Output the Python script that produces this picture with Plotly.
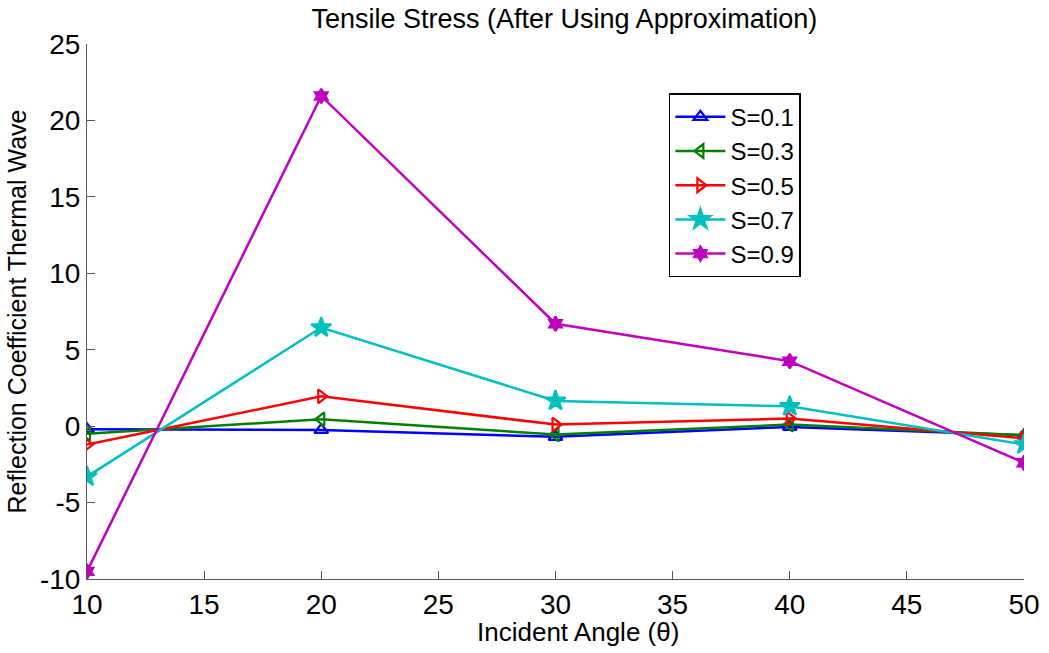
import plotly.graph_objects as go

# Incident angles (degrees)
angles = [10, 20, 30, 40, 50]

# Reflection coefficient of the thermal wave for each S value
s01 = [-0.2, -0.25, -0.7, -0.05, -0.6]
s03 = [-0.5, 0.45, -0.55, 0.1, -0.6]
s05 = [-1.2, 1.95, 0.1, 0.5, -0.8]
s07 = [-3.3, 6.45, 1.65, 1.3, -1.2]
s09 = [-9.5, 21.6, 6.7, 4.25, -2.4]

series_names = ["S=0.1", "S=0.3", "S=0.5", "S=0.7", "S=0.9"]
series_values = [s01, s03, s05, s07, s09]
colors = ["#0000ff", "#008000", "#ff0000", "#00bfbf", "#bf00bf"]
symbols = ["triangle-up-open", "triangle-left-open", "triangle-right-open", "star", "hexagram"]
sizes = [12, 12, 12, 15, 11]

x_ticks = [10, 15, 20, 25, 30, 35, 40, 45, 50]
y_ticks = [-10, -5, 0, 5, 10, 15, 20, 25]
y_tick_labels = ["-10", "-5", "0", "5", "10", "15", "20", "25"]

fig = go.Figure()
for name, vals, col, sym, sz in zip(series_names, series_values, colors, symbols, sizes):
    fig.add_trace(go.Scatter(
        x=angles, y=vals, name=name, mode="lines+markers",
        line=dict(color=col, width=2.5),
        marker=dict(symbol=sym, size=sz, color=col,
                    line=dict(color=col, width=2.2)),
    ))

font_family = "Liberation Sans"

fig.update_layout(
    width=1049, height=653,
    margin=dict(l=87, r=25, t=44, b=74),
    paper_bgcolor="white", plot_bgcolor="white",
    font=dict(family=font_family, color="black"),
    title=dict(text="Tensile Stress (After Using Approximation)",
               x=0.538, xanchor="center", y=0.972, yanchor="middle",
               font=dict(size=27, family=font_family)),
    xaxis=dict(range=[10, 50], tickvals=x_ticks, ticks="inside", ticklen=8,
               tickcolor="#555", showline=True, linecolor="#555", linewidth=1,
               showgrid=False, zeroline=False, tickfont=dict(size=28),
               automargin=False),
    yaxis=dict(range=[-10, 25], tickvals=y_ticks, ticktext=y_tick_labels,
               ticks="inside", ticklen=8,
               tickcolor="#555", showline=True, linecolor="#555", linewidth=1,
               showgrid=False, zeroline=False, tickfont=dict(size=28),
               automargin=False,
               title=dict(text="Reflection Coefficient Thermal Wave",
                          font=dict(size=25), standoff=6)),
    legend=dict(x=0.621, y=0.908, xanchor="left", yanchor="top",
                bgcolor="white", bordercolor="black", borderwidth=1.5,
                font=dict(size=24, family=font_family),
                itemwidth=50, tracegroupgap=0),
    showlegend=True,
)

# x-axis title placed as an annotation below the tick labels
fig.add_annotation(
    text="Incident Angle (θ)", xref="paper", yref="paper",
    x=0.524, y=-0.099, xanchor="center", yanchor="middle",
    showarrow=False, font=dict(size=26, family=font_family),
)

fig.write_html("out.html")
